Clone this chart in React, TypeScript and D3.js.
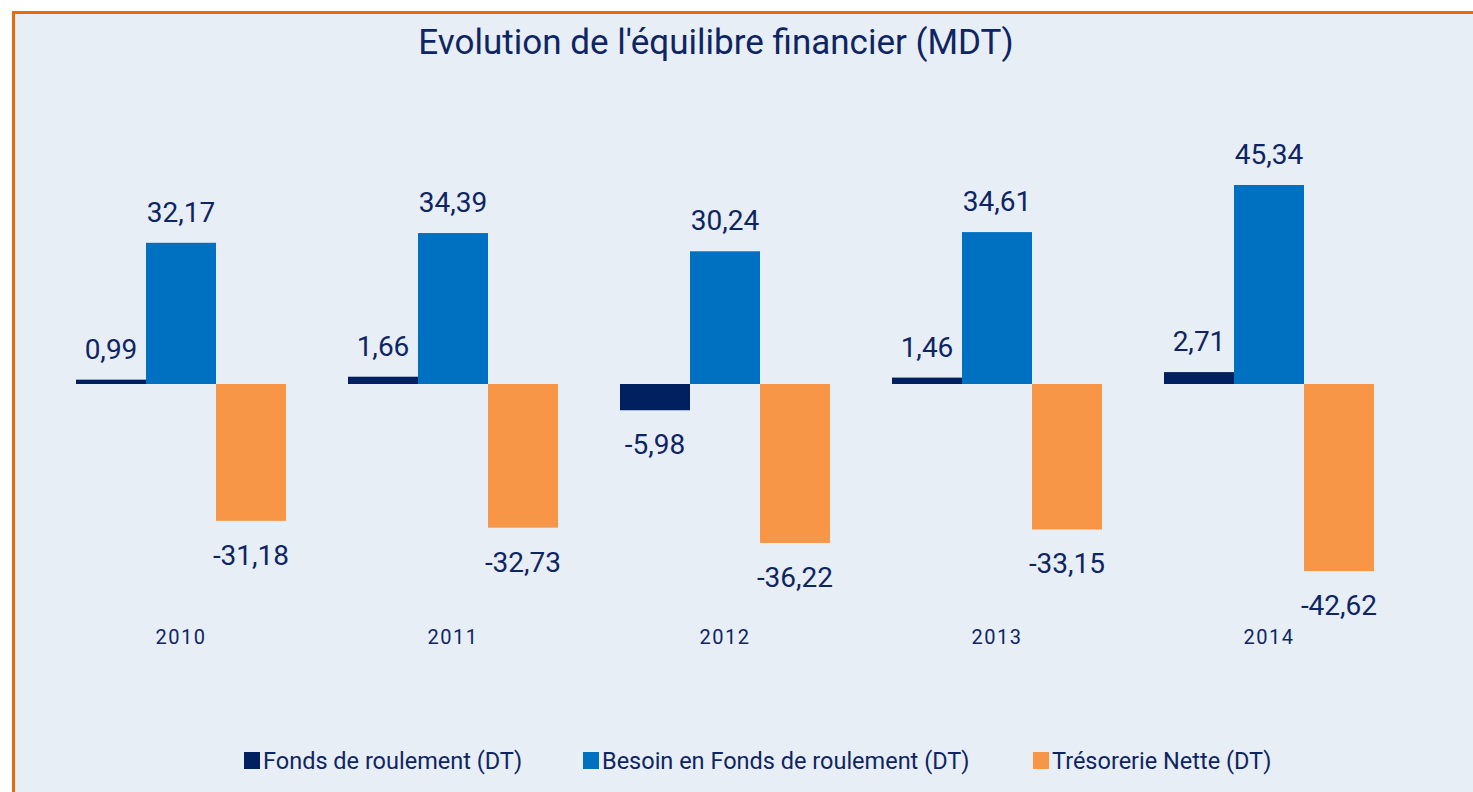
import { useEffect, useRef } from "react";
import * as d3 from "d3";

// values (MDT)
const years = ["2010", "2011", "2012", "2013", "2014"];
const fondsRoulement = [0.99, 1.66, -5.98, 1.46, 2.71];
const besoinFonds = [32.17, 34.39, 30.24, 34.61, 45.34];
const tresorerie = [-31.18, -32.73, -36.22, -33.15, -42.62];
const seriesNames = ["Fonds de roulement (DT)", "Besoin en Fonds de roulement (DT)", "Trésorerie Nette (DT)"];
const seriesColors = ["#002060", "#0070C0", "#F79646"];

const width = 1473;
const height = 792;
const textColor = "#0E2564";
const font = "Roboto, 'Open Sans', sans-serif";

function App() {
  const ref = useRef<SVGSVGElement>(null);

  useEffect(() => {
    const svg = d3.select(ref.current);
    svg.selectAll("*").remove();

    // frame: light blue panel with orange top and left edges
    svg.append("rect").attr("x", 12).attr("y", 11).attr("width", width).attr("height", height)
      .attr("fill", "#E8EEF6");
    svg.append("rect").attr("x", 12).attr("y", 11).attr("width", width).attr("height", 3).attr("fill", "#E46C0A");
    svg.append("rect").attr("x", 12).attr("y", 11).attr("width", 3).attr("height", height).attr("fill", "#E46C0A");

    svg.append("text")
      .attr("x", 716).attr("y", 54)
      .attr("text-anchor", "middle")
      .attr("font-family", font)
      .attr("font-size", 35)
      .attr("fill", textColor)
      .text("Evolution de l'équilibre financier (MDT)");

    const data = years.map((y, i) => ({
      year: y,
      values: [fondsRoulement[i], besoinFonds[i], tresorerie[i]],
    }));

    const x0 = d3.scaleBand().domain(years).range([45, 1405]).paddingInner(0.228).paddingOuter(0.114);
    const x1 = d3.scaleBand().domain(["0", "1", "2"]).range([0, x0.bandwidth()]);
    const y = d3.scaleLinear().domain([-50, 50]).range([384 + 4.389 * 50, 384 - 4.389 * 50]);

    const fmt = d3.formatLocale({ decimal: ",", thousands: " ", grouping: [3], currency: ["", ""], minus: "-" }).format(".2f");

    const groups = svg.selectAll("g.year")
      .data(data).enter()
      .append("g")
      .attr("class", "year")
      .attr("transform", d => "translate(" + x0(d.year) + ",0)");

    const cells = groups.selectAll("g.cell")
      .data(d => d.values.map((v, k) => ({ v, k })))
      .enter().append("g").attr("class", "cell");

    cells.append("rect")
      .attr("x", d => x1(String(d.k))!)
      .attr("width", x1.bandwidth())
      .attr("y", d => y(Math.max(0, d.v)))
      .attr("height", d => Math.abs(y(d.v) - y(0)))
      .attr("fill", d => seriesColors[d.k]);

    cells.append("text")
      .attr("x", d => x1(String(d.k))! + x1.bandwidth() / 2)
      .attr("y", d => d.v >= 0 ? y(d.v) - 21 : y(d.v) + 44)
      .attr("text-anchor", "middle")
      .attr("font-family", font)
      .attr("font-size", 28)
      .attr("fill", textColor)
      .text(d => fmt(d.v));

    // year labels
    svg.selectAll("text.yr")
      .data(years).enter()
      .append("text")
      .attr("class", "yr")
      .attr("x", d => x0(d)! + x0.bandwidth() / 2)
      .attr("y", 644)
      .attr("text-anchor", "middle")
      .attr("font-family", font)
      .attr("font-size", 20)
      .attr("letter-spacing", 1.5)
      .attr("fill", textColor)
      .text(d => d);

    // legend
    const legendX = [244, 583, 1033];
    const legend = svg.selectAll("g.legend")
      .data(seriesNames).enter()
      .append("g")
      .attr("class", "legend")
      .attr("transform", (d, i) => "translate(" + legendX[i] + ",752)");
    legend.append("rect").attr("width", 16).attr("height", 17).attr("fill", (d, i) => seriesColors[i]);
    legend.append("text")
      .attr("x", 19).attr("y", 17)
      .attr("font-family", font)
      .attr("font-size", 23.5)
      .attr("fill", textColor)
      .text(d => d);
  });

  return (
    <svg ref={ref} width={width} height={height}
      style={{ position: "absolute", left: 0, top: 0, background: "#fff" }} />
  );
}

export default App;
